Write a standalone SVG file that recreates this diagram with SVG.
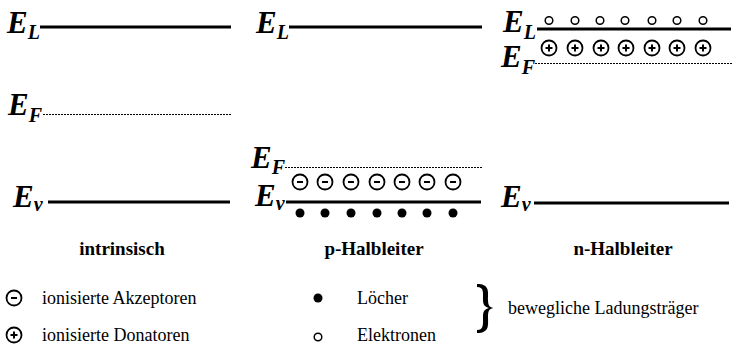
<svg xmlns="http://www.w3.org/2000/svg" width="752" height="356" viewBox="0 0 752 356">
<style>
.E{font-family:"Liberation Serif",serif;font-weight:bold;font-style:italic;font-size:31px;fill:#000}
.s{font-size:20px}
.band{stroke:#000;stroke-width:3;fill:none}
.fermi{stroke:#000;stroke-width:1;stroke-dasharray:2 1;fill:none}
.lab{font-family:"Liberation Serif",serif;font-weight:bold;font-size:19px;fill:#000;text-anchor:middle}
.leg{font-family:"Liberation Serif",serif;font-size:18px;fill:#000}
.ion{fill:#fff;stroke:#000;stroke-width:1.8}
.sign{stroke:#000;stroke-width:2;fill:none}
.el{fill:#fff;stroke:#000;stroke-width:1.5}
</style>
<defs>
<g id="minus"><circle class="ion" r="7.5"/><line class="sign" x1="-3" y1="0" x2="3" y2="0"/></g>
<g id="plus"><circle class="ion" r="7.5"/><line class="sign" x1="-3.5" y1="0" x2="3.5" y2="0"/><line class="sign" x1="0" y1="-3.5" x2="0" y2="3.5"/></g>
<circle id="hole" r="4.5" fill="#000"/>
<circle id="elec" class="el" r="3.8"/>
</defs>

<g id="intrinsic">
<text class="E" x="7" y="33">E<tspan class="s" dy="6">L</tspan></text>
<line class="band" x1="40" y1="27" x2="231" y2="27"/>
<text class="E" x="8" y="115">E<tspan class="s" dy="7">F</tspan></text>
<line class="fermi" x1="43" y1="114.5" x2="231" y2="114.5"/>
<text class="E" x="13" y="207">E<tspan class="s" dy="4">v</tspan></text>
<line class="band" x1="48" y1="202" x2="230" y2="202"/>
<text class="lab" x="122" y="255">intrinsisch</text>
</g>

<g id="p-type">
<text class="E" x="256" y="33">E<tspan class="s" dy="6">L</tspan></text>
<line class="band" x1="289" y1="27" x2="482" y2="27"/>
<text class="E" x="251" y="168">E<tspan class="s" dy="6">F</tspan></text>
<line class="fermi" x1="285" y1="167.5" x2="482" y2="167.5"/>
<g id="acceptors">
<use href="#minus" x="300" y="182"/><use href="#minus" x="325" y="182"/><use href="#minus" x="351" y="182"/><use href="#minus" x="377" y="182"/><use href="#minus" x="402" y="182"/><use href="#minus" x="427" y="182"/><use href="#minus" x="453" y="182"/>
</g>
<text class="E" x="255" y="206">E<tspan class="s" dy="4">v</tspan></text>
<line class="band" x1="286" y1="202" x2="481" y2="202"/>
<g id="holes">
<use href="#hole" x="300" y="213"/><use href="#hole" x="325" y="213"/><use href="#hole" x="351" y="213"/><use href="#hole" x="377" y="213"/><use href="#hole" x="402" y="213"/><use href="#hole" x="427" y="213"/><use href="#hole" x="453" y="213"/>
</g>
<text class="lab" x="374" y="255">p-Halbleiter</text>
</g>

<g id="n-type">
<text class="E" x="503" y="32">E<tspan class="s" dy="7">L</tspan></text>
<g id="electrons">
<use href="#elec" x="549" y="20.5"/><use href="#elec" x="575" y="20.5"/><use href="#elec" x="600" y="20.5"/><use href="#elec" x="625" y="20.5"/><use href="#elec" x="652" y="20.5"/><use href="#elec" x="677" y="20.5"/><use href="#elec" x="703" y="20.5"/>
</g>
<line class="band" x1="537" y1="29" x2="731" y2="29"/>
<g id="donors">
<use href="#plus" x="549" y="48"/><use href="#plus" x="575" y="48"/><use href="#plus" x="601" y="48"/><use href="#plus" x="626" y="48"/><use href="#plus" x="652" y="48"/><use href="#plus" x="677" y="48"/><use href="#plus" x="703" y="48"/>
</g>
<text class="E" x="501" y="67">E<tspan class="s" dy="7">F</tspan></text>
<line class="fermi" x1="535" y1="63.5" x2="732" y2="63.5"/>
<text class="E" x="501" y="207">E<tspan class="s" dy="4">v</tspan></text>
<line class="band" x1="534" y1="203" x2="729" y2="203"/>
<text class="lab" x="623" y="255">n-Halbleiter</text>
</g>

<g id="legend">
<use href="#minus" x="14" y="298"/>
<text class="leg" x="42" y="304">ionisierte Akzeptoren</text>
<use href="#plus" x="14" y="335"/>
<text class="leg" x="42" y="341">ionisierte Donatoren</text>
<use href="#hole" x="318" y="298"/>
<text class="leg" x="357" y="304">Löcher</text>
<use href="#elec" x="318" y="337"/>
<text class="leg" x="357" y="341">Elektronen</text>
<path d="M477,284 C490,284 488,292 488,300 C488,306 490,308 495,308 C490,308 488,310 488,316 C488,325 490,333 477,333 L477,330 C484,330 483,324 483,316 C483,311 485,309 489,308 C485,307 483,305 483,300 C483,292 484,287 477,287 Z" fill="#000"/>
<text class="leg" x="508" y="314">bewegliche Ladungsträger</text>
</g>
</svg>
